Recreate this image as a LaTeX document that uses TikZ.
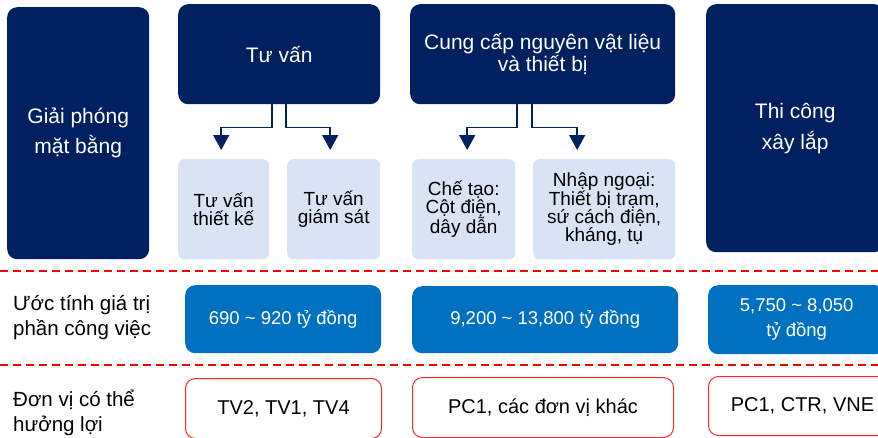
\documentclass[tikz,border=0pt]{standalone}
\usepackage{fontspec}
\setmainfont{Liberation Sans}
\usetikzlibrary{arrows.meta}

\definecolor{navy}{HTML}{002060}
\definecolor{paleblue}{HTML}{DAE3F3}
\definecolor{midblue}{HTML}{0070C0}

\tikzset{
  darkbox/.style={fill=navy, text=white, rounded corners=10pt, anchor=north west,
    inner sep=0pt, align=center, font=\fontsize{21}{22}\selectfont},
  palebox/.style={fill=paleblue, text=black, rounded corners=6pt, anchor=north west,
    inner sep=0pt, align=center, font=\fontsize{19}{18}\selectfont},
  valuebox/.style={fill=midblue, text=white, rounded corners=10pt, anchor=north west,
    inner sep=0pt, align=center, font=\fontsize{18.5}{25}\selectfont},
  unitbox/.style={draw=red!85, fill=white, line width=1pt, rounded corners=10pt,
    anchor=north west, inner sep=0pt, align=center, font=\fontsize{20}{24}\selectfont},
  rowlabel/.style={anchor=west, align=left, inner sep=0pt, font=\fontsize{20.5}{25}\selectfont},
  arr/.style={draw=navy, line width=1.6pt, shorten >=9pt,
    -{Triangle[width=16pt,length=15pt]}},
  sepline/.style={red, line width=2pt, dash pattern=on 8pt off 5pt}
}

\begin{document}
\begin{tikzpicture}[x=1pt, y=-1pt]
    \useasboundingbox (0,0) rectangle (878,437);
    \clip (0,0) rectangle (878,437);

    % Top row
    \node[darkbox, minimum width=142pt, minimum height=252pt, font=\fontsize{21}{30}\selectfont]
        (giai) at (7,7) {Giải phóng\\mặt bằng};
    \node[darkbox, minimum width=202pt, minimum height=100pt] (tuvan) at (178,4) {Tư vấn};
    \node[darkbox, minimum width=265pt, minimum height=100pt] (cungcap) at (410,4)
        {Cung cấp nguyên vật liệu\\và thiết bị};
    \node[darkbox, minimum width=178pt, minimum height=248pt, font=\fontsize{21}{31}\selectfont]
        (thicong) at (706,4) {Thi công\\xây lắp};

    % Sub-items
    \node[palebox, minimum width=91pt, minimum height=100pt] (tktk) at (178,159) {Tư vấn\\thiết kế};
    \node[palebox, minimum width=93pt, minimum height=100pt] (tvgs) at (287,159) {Tư vấn\\giám sát};
    \node[palebox, minimum width=103pt, minimum height=100pt] (chetao) at (412,159)
        {Chế tạo:\\Cột điện,\\dây dẫn};
    \node[palebox, minimum width=142pt, minimum height=100pt] (nhap) at (533,159)
        {Nhập ngoại:\\Thiết bị trạm,\\sứ cách điện,\\kháng, tụ};

    % Elbow arrows
    \draw[arr] ([xshift=-7pt]tuvan.south) -- ++(0,23) -| ([xshift=-2.5pt]tktk.north);
    \draw[arr] ([xshift=7pt]tuvan.south) -- ++(0,23) -| ([xshift=-3.5pt]tvgs.north);
    \draw[arr] ([xshift=-25.5pt]cungcap.south) -- ++(0,23) -| ([xshift=3.5pt]chetao.north);
    \draw[arr] ([xshift=-10.5pt]cungcap.south) -- ++(0,23) -| ([xshift=-27pt]nhap.north);

    % Dashed separators
    \draw[sepline] (0,271) -- (878,271);
    \draw[sepline] (0,365) -- (878,365);

    % Value row
    \node[rowlabel] (lblvalue) at (13,318) {Ước tính giá trị\\phần công việc};
    \node[valuebox, minimum width=196pt, minimum height=68pt] (val1) at (185,285) {690 \textasciitilde{} 920 tỷ đồng};
    \node[valuebox, minimum width=266pt, minimum height=67pt] (val2) at (412,286) {9,200 \textasciitilde{} 13,800 tỷ đồng};
    \node[valuebox, minimum width=177pt, minimum height=69pt] (val3) at (708,285) {5,750 \textasciitilde{} 8,050\\tỷ đồng};

    % Beneficiary row
    \node[rowlabel] (lblunit) at (13,413) {Đơn vị có thể\\hưởng lợi};
    \node[unitbox, minimum width=196pt, minimum height=60pt] (unit1) at (185,378) {TV2, TV1, TV4};
    \node[unitbox, minimum width=261pt, minimum height=60pt] (unit2) at (412,377) {PC1, các đơn vị khác};
    \node[unitbox, minimum width=188pt, minimum height=59pt] (unit3) at (708,376) {PC1, CTR, VNE};
\end{tikzpicture}
\end{document}
